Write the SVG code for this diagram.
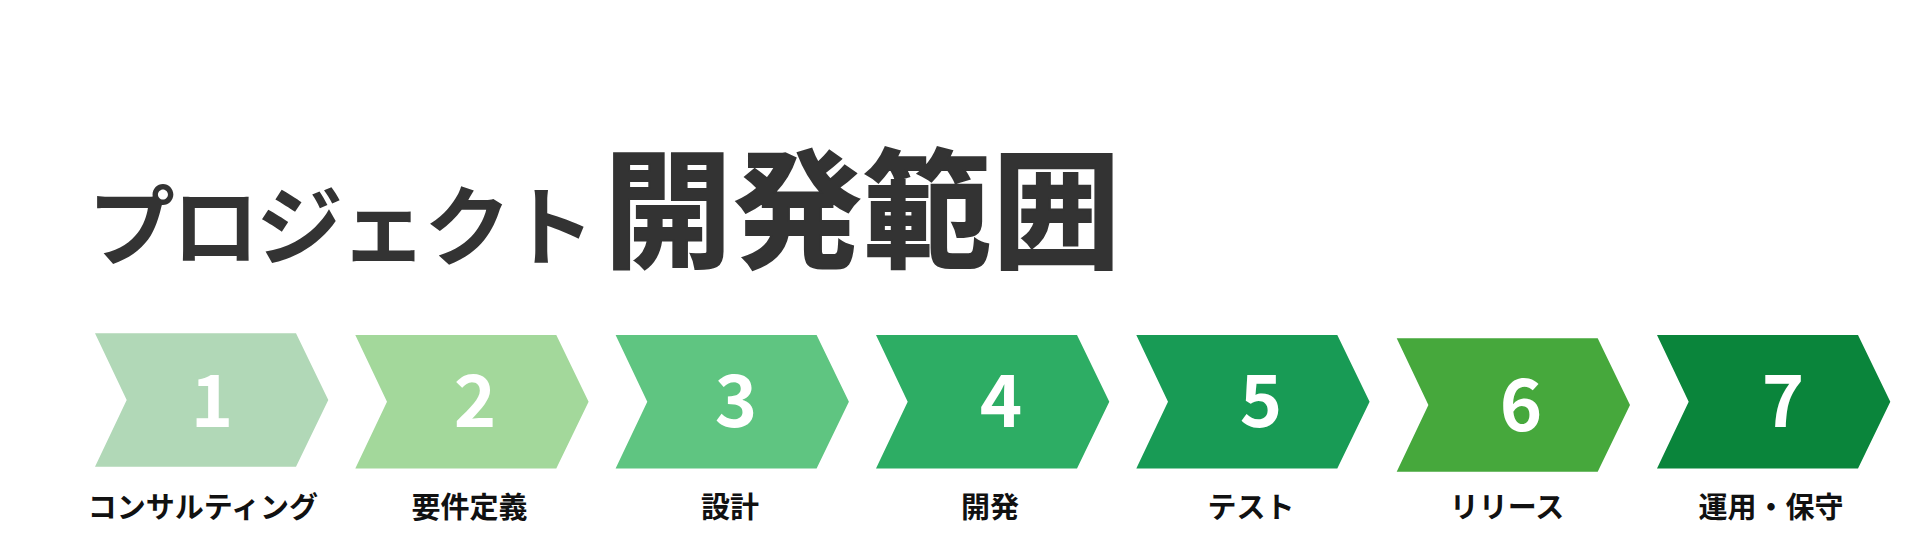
<svg xmlns="http://www.w3.org/2000/svg" xmlns:xlink="http://www.w3.org/1999/xlink" width="1922" height="553" viewBox="0 0 1922 553">
  <style>
    .title { font-family: "Noto Sans CJK JP", "Noto Sans", sans-serif; font-weight: 700; fill: #333333; }
    .num { font-family: "Noto Sans CJK JP", "Noto Sans", sans-serif; font-weight: 700; font-size: 72px; fill: #ffffff; text-anchor: middle; }
    .label { font-family: "Noto Sans CJK JP", "Noto Sans", sans-serif; font-weight: 700; font-size: 29px; fill: #111111; text-anchor: middle; }
  </style>
  <defs>
    <path id="chev" d="M0,0 L201,0 L233.3,66.7 L201,133.4 L0,133.4 L31.7,66.7 Z"/>
  </defs>
  <rect width="1922" height="553" fill="#ffffff"/>
  <g id="title">
    <text class="title" x="88" y="259" font-size="87" letter-spacing="-3">プロジェクト</text>
    <text class="title" x="604" y="258" font-size="128" letter-spacing="1.5" stroke="#333333" stroke-width="2" stroke-linejoin="miter">開発範囲</text>
  </g>
  <g id="step1">
    <use xlink:href="#chev" transform="translate(95,333.3)" fill="#b1d8b7"/>
    <text class="num" x="212" y="427">1</text>
    <text class="label" x="203" y="518">コンサルティング</text>
  </g>
  <g id="step2">
    <use xlink:href="#chev" transform="translate(355.3,335)" fill="#a3d89b"/>
    <text class="num" x="475" y="427">2</text>
    <text class="label" x="469.5" y="518">要件定義</text>
  </g>
  <g id="step3">
    <use xlink:href="#chev" transform="translate(615.6,335)" fill="#5fc581"/>
    <text class="num" x="736" y="427">3</text>
    <text class="label" x="730" y="518">設計</text>
  </g>
  <g id="step4">
    <use xlink:href="#chev" transform="translate(876,335)" fill="#2dad64"/>
    <text class="num" x="1001" y="427">4</text>
    <text class="label" x="990" y="518">開発</text>
  </g>
  <g id="step5">
    <use xlink:href="#chev" transform="translate(1136.3,335)" fill="#189b55"/>
    <text class="num" x="1261" y="427">5</text>
    <text class="label" x="1251" y="518">テスト</text>
  </g>
  <g id="step6">
    <use xlink:href="#chev" transform="translate(1396.7,338.3)" fill="#46a83c"/>
    <text class="num" x="1521" y="431">6</text>
    <text class="label" x="1507" y="518">リリース</text>
  </g>
  <g id="step7">
    <use xlink:href="#chev" transform="translate(1657,335)" fill="#0a853b"/>
    <text class="num" x="1783" y="427">7</text>
    <text class="label" x="1771" y="518">運用・保守</text>
  </g>
  <g id="connectors"></g>
</svg>
